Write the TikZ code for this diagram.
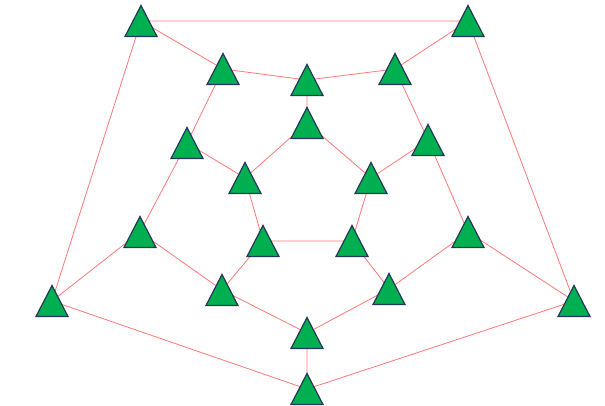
\documentclass[tikz,border=0pt]{standalone}
\begin{document}
\begin{tikzpicture}[x=0.75pt,y=-0.75pt,
  edge/.style={draw={rgb,255:red,255;green,120;blue,120},line width=0.6pt},
  tri/.pic={\draw[fill={rgb,255:red,0;green,176;blue,80},draw={rgb,255:red,35;green,55;blue,90},line width=0.9pt,line join=miter]
     (-16,15.5) -- (16,15.5) -- (0,-15.5) -- cycle;}]
\useasboundingbox (0,0) rectangle (605,405);
\coordinate (a) at (141,21);
\coordinate (b) at (468,21);
\coordinate (l) at (52,301);
\coordinate (r) at (574,301);
\coordinate (d) at (307,389);
\coordinate (m1) at (223,69);
\coordinate (m2) at (307,80);
\coordinate (m3) at (395,69);
\coordinate (m4) at (428,140);
\coordinate (m5) at (468,232);
\coordinate (m6) at (389,289);
\coordinate (m7) at (307,333);
\coordinate (m8) at (222,290);
\coordinate (m9) at (140,232);
\coordinate (m10) at (187,143);
\coordinate (i1) at (307,123);
\coordinate (i2) at (371,178);
\coordinate (i3) at (352,241);
\coordinate (i4) at (263,241);
\coordinate (i5) at (245,178);
\path[edge] (a) -- (b) (a) -- (l) (b) -- (r) (l) -- (d) (r) -- (d)
  (a) -- (m1) (b) -- (m3) (r) -- (m5) (d) -- (m7) (l) -- (m9)
  (m1) -- (m2) (m2) -- (m3) (m3) -- (m4) (m4) -- (m5) (m5) -- (m6)
  (m6) -- (m7) (m7) -- (m8) (m8) -- (m9) (m9) -- (m10) (m10) -- (m1)
  (m2) -- (i1) (m4) -- (i2) (m6) -- (i3) (m8) -- (i4) (m10) -- (i5)
  (i1) -- (i2) (i2) -- (i3) (i3) -- (i4) (i4) -- (i5) (i5) -- (i1);
\foreach \n in {a,b,l,r,d,m1,m2,m3,m4,m5,m6,m7,m8,m9,m10,i1,i2,i3,i4,i5}
  \pic at (\n) {tri};
\end{tikzpicture}
\end{document}
